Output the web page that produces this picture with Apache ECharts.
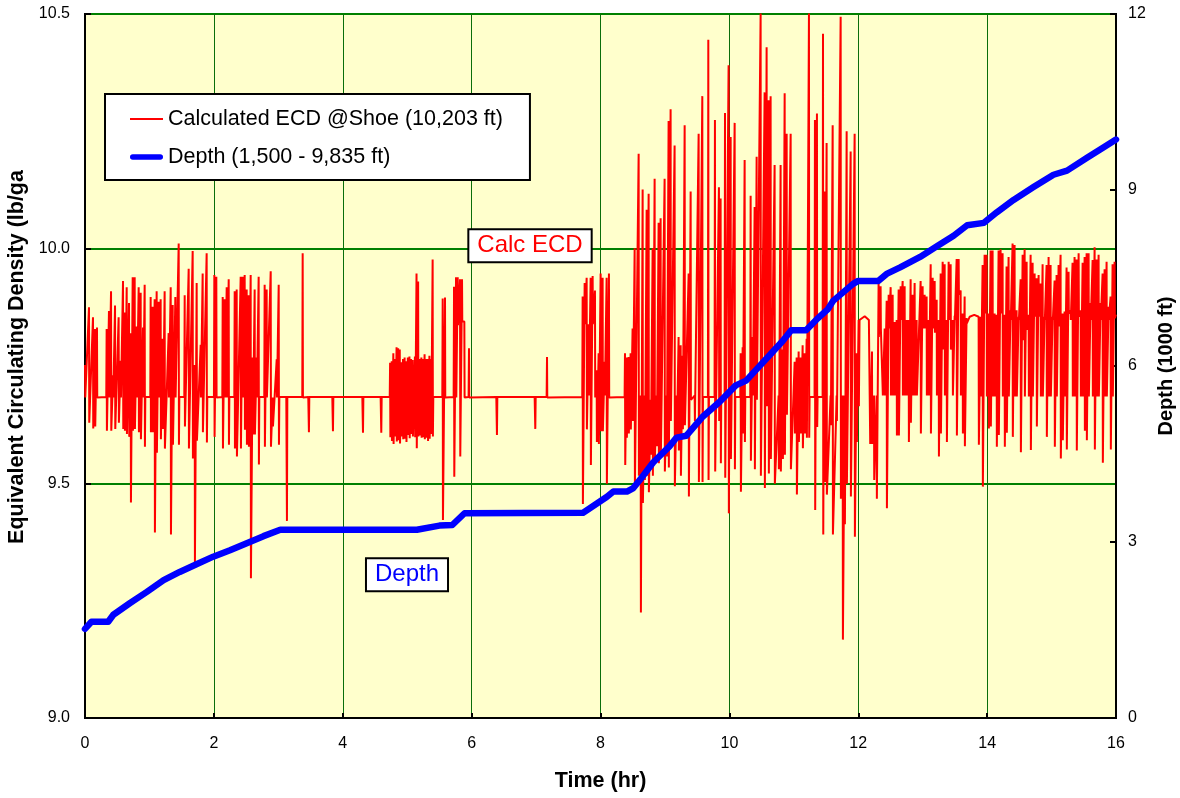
<!DOCTYPE html>
<html><head><meta charset="utf-8">
<script src="https://cdn.jsdelivr.net/npm/echarts@6/dist/echarts.min.js"></script>
<style>html,body{margin:0;padding:0;background:#fff}#c{width:1180px;height:798px}</style>
</head><body><div id="c"></div><script>
// ---------- DATA ----------
const xTicks = [0, 2, 4, 6, 8, 10, 12, 14, 16];
const ecdTicks = [9.0, 9.5, 10.0, 10.5];
const depthTicks = [0, 3, 6, 9, 12];
const ECD_BASE = 9.684;      // resting ECD level (before ~12 hr)
const seriesNames = ['Calculated ECD @Shoe (10,203 ft)', 'Depth (1,500 - 9,835 ft)'];

// ECD spikes: [time hr, high value, low value]
const ecdSpikes0to4 = [
  [0.000, 9.752, 9.683], [0.062, 9.875, 9.629], [0.124, 9.854, 9.617], [0.155, 9.829, 9.621],
  [0.186, 9.832, 9.683], [0.336, 9.829, 9.612], [0.372, 9.867, 9.683], [0.404, 9.909, 9.612],
  [0.435, 9.730, 9.683], [0.466, 9.879, 9.616], [0.522, 9.854, 9.629], [0.554, 9.761, 9.683],
  [0.590, 9.931, 9.616], [0.616, 9.864, 9.612], [0.647, 9.918, 9.605], [0.683, 9.884, 9.599],
  [0.709, 9.820, 9.459], [0.740, 9.939, 9.612], [0.771, 9.939, 9.616], [0.802, 9.834, 9.683],
  [0.833, 9.918, 9.609], [0.864, 9.906, 9.594], [0.900, 9.832, 9.683], [0.926, 9.923, 9.578],
  [1.019, 9.897, 9.609], [1.050, 9.876, 9.609], [1.081, 9.892, 9.395], [1.112, 9.909, 9.565],
  [1.143, 9.887, 9.683], [1.174, 9.892, 9.594], [1.205, 9.808, 9.616], [1.236, 9.909, 9.574],
  [1.298, 9.820, 9.683], [1.330, 9.918, 9.391], [1.361, 9.880, 9.582], [1.402, 9.897, 9.683],
  [1.454, 10.011, 9.582], [1.547, 9.901, 9.621], [1.609, 9.957, 9.574], [1.671, 9.995, 9.553],
  [1.702, 9.752, 9.332], [1.733, 9.927, 9.591], [1.795, 9.795, 9.683], [1.826, 9.947, 9.609],
  [1.888, 9.990, 9.587], [2.007, 9.944, 9.599], [2.038, 9.940, 9.683], [2.137, 9.897, 9.574],
  [2.168, 9.892, 9.683], [2.199, 9.918, 9.683], [2.230, 9.935, 9.582], [2.323, 9.909, 9.574],
  [2.354, 9.913, 9.557], [2.416, 9.940, 9.574], [2.447, 9.940, 9.683], [2.478, 9.944, 9.614],
  [2.509, 9.913, 9.582], [2.540, 9.901, 9.578], [2.571, 9.944, 9.298], [2.602, 9.768, 9.604],
  [2.633, 9.913, 9.604], [2.664, 9.768, 9.683], [2.695, 9.940, 9.540], [2.788, 9.923, 9.578],
  [2.819, 9.913, 9.683], [2.882, 9.952, 9.578], [2.913, 9.683, 9.621], [2.975, 9.764, 9.683],
  [3.006, 9.923, 9.582], [3.130, 9.683, 9.420], [3.378, 9.990, 9.683], [3.471, 9.683, 9.609],
  [3.844, 9.683, 9.611]
];
const ecdSpikes4to8 = [
  [4.310, 9.683, 9.608], [4.594, 9.683, 9.608],
  [4.735, 9.757, 9.598], [4.760, 9.760, 9.590], [4.785, 9.777, 9.584], [4.810, 9.765, 9.600],
  [4.835, 9.790, 9.589], [4.860, 9.788, 9.592], [4.885, 9.785, 9.585], [4.910, 9.758, 9.600],
  [4.935, 9.765, 9.594], [4.960, 9.768, 9.595], [4.985, 9.760, 9.588], [5.010, 9.768, 9.603],
  [5.035, 9.770, 9.596], [5.060, 9.765, 9.605], [5.085, 9.763, 9.600], [5.120, 9.770, 9.598],
  [5.145, 9.947, 9.575], [5.170, 9.930, 9.600], [5.195, 9.765, 9.602], [5.220, 9.768, 9.597],
  [5.245, 9.765, 9.598], [5.270, 9.775, 9.594], [5.295, 9.765, 9.597], [5.320, 9.765, 9.590],
  [5.345, 9.772, 9.595], [5.370, 9.765, 9.605], [5.395, 9.977, 9.600],
  [5.551, 9.894, 9.422], [5.587, 9.896, 9.683], [5.727, 9.919, 9.514], [5.758, 9.939, 9.683],
  [5.784, 9.939, 9.837], [5.820, 9.935, 9.557], [5.851, 9.935, 9.845], [5.887, 9.845, 9.683],
  [5.959, 9.788, 9.683], [6.389, 9.683, 9.603], [6.984, 9.683, 9.616], [7.170, 9.769, 9.683],
  [7.723, 9.898, 9.456], [7.754, 9.927, 9.839], [7.785, 9.938, 9.615], [7.816, 9.839, 9.687],
  [7.847, 9.938, 9.539], [7.878, 9.942, 9.839], [7.914, 9.911, 9.683], [7.940, 9.741, 9.588],
  [7.971, 9.777, 9.584]
];
const ecdSpikes8to12 = [
  [8.002, 9.947, 9.611], [8.033, 9.938, 9.611], [8.064, 9.759, 9.687], [8.095, 9.938, 9.499],
  [8.131, 9.947, 9.683],
  [8.380, 9.777, 9.539], [8.405, 9.768, 9.597], [8.436, 9.769, 9.606], [8.467, 9.777, 9.615],
  [8.498, 9.830, 9.633], [8.530, 10.001, 9.490], [8.592, 10.202, 9.516], [8.623, 9.687, 9.225],
  [8.654, 10.126, 9.458], [8.685, 9.687, 9.507], [8.716, 10.083, 9.516], [8.747, 10.117, 9.481],
  [8.778, 9.678, 9.561], [8.809, 10.001, 9.516], [8.840, 10.149, 9.552], [8.871, 9.687, 9.579],
  [8.902, 10.055, 9.543], [8.933, 10.065, 9.561], [8.995, 10.149, 9.525], [9.026, 9.687, 9.557],
  [9.057, 10.272, 9.534], [9.088, 10.297, 9.633], [9.150, 10.220, 9.494], [9.181, 9.687, 9.597],
  [9.212, 9.812, 9.570], [9.244, 9.794, 9.516], [9.275, 9.772, 9.615], [9.306, 10.263, 9.624],
  [9.368, 9.947, 9.472], [9.399, 10.122, 9.678], [9.461, 9.687, 9.633], [9.523, 10.245, 9.503],
  [9.580, 10.325, 9.503], [9.673, 10.445, 9.507], [9.776, 10.274, 9.525], [9.838, 10.131, 9.633],
  [9.864, 10.107, 9.543], [9.932, 10.289, 9.512], [9.988, 10.391, 9.436], [10.020, 10.238, 9.552],
  [10.082, 10.268, 9.530], [10.175, 9.777, 9.482], [10.206, 9.790, 9.606], [10.237, 10.189, 9.588],
  [10.330, 10.113, 9.548], [10.361, 9.812, 9.687], [10.392, 10.089, 9.530], [10.423, 10.196, 9.678],
  [10.485, 10.501, 9.516], [10.547, 10.333, 9.490], [10.578, 10.429, 9.664], [10.609, 10.316, 9.521],
  [10.640, 10.325, 9.552], [10.702, 10.178, 9.499], [10.764, 9.687, 9.530], [10.795, 10.178, 9.525],
  [10.827, 9.785, 9.552], [10.858, 10.331, 9.561], [10.889, 10.245, 9.646], [10.951, 10.245, 9.530],
  [11.013, 9.759, 9.606], [11.044, 9.768, 9.476], [11.075, 9.781, 9.588], [11.106, 9.768, 9.606],
  [11.137, 9.794, 9.575], [11.168, 9.777, 9.606], [11.199, 9.808, 9.597], [11.235, 10.501, 9.597],
  [11.328, 10.274, 9.443], [11.359, 10.288, 9.620], [11.453, 10.458, 9.391], [11.478, 10.122, 9.503],
  [11.509, 10.225, 9.476], [11.571, 9.687, 9.624], [11.603, 10.263, 9.391], [11.665, 9.687, 9.633],
  [11.727, 10.494, 9.467], [11.758, 9.687, 9.167], [11.789, 9.687, 9.413], [11.820, 10.250, 9.499],
  [11.882, 10.207, 9.472], [11.944, 10.245, 9.386], [11.975, 9.777, 9.588]
];
const ecdSpikes12to16 = [
  [12.006, 9.848, 9.664], [12.020, 9.848, 9.848], [12.100, 9.856, 9.856], [12.165, 9.848, 9.848],
  [12.182, 9.848, 9.584], [12.213, 9.781, 9.584], [12.244, 9.687, 9.507], [12.285, 9.687, 9.467],
  [12.316, 9.931, 9.812], [12.347, 9.920, 9.830], [12.378, 9.826, 9.687], [12.410, 9.830, 9.687],
  [12.441, 9.889, 9.447], [12.472, 9.902, 9.830], [12.503, 9.918, 9.687], [12.534, 9.902, 9.687],
  [12.565, 9.844, 9.687], [12.596, 9.848, 9.602], [12.627, 9.913, 9.602], [12.658, 9.920, 9.848],
  [12.689, 9.931, 9.687], [12.720, 9.920, 9.687], [12.751, 9.848, 9.687], [12.782, 9.848, 9.588],
  [12.813, 9.935, 9.629], [12.844, 9.902, 9.687], [12.875, 9.927, 9.687], [12.906, 9.848, 9.687],
  [12.968, 9.931, 9.606], [12.999, 9.920, 9.830], [13.030, 9.902, 9.830], [13.061, 9.898, 9.687],
  [13.092, 9.848, 9.687], [13.124, 9.967, 9.606], [13.155, 9.938, 9.830], [13.186, 9.931, 9.821],
  [13.217, 9.891, 9.687], [13.248, 9.848, 9.557], [13.279, 9.947, 9.606], [13.310, 9.972, 9.785],
  [13.341, 9.967, 9.687], [13.372, 9.848, 9.588], [13.403, 9.972, 9.848], [13.434, 9.967, 9.785],
  [13.465, 9.848, 9.687], [13.496, 9.857, 9.848], [13.527, 9.978, 9.602], [13.558, 9.978, 9.902],
  [13.589, 9.911, 9.687], [13.620, 9.862, 9.606], [13.651, 9.898, 9.579], [13.681, 9.852, 9.841],
  [13.730, 9.855, 9.855], [13.800, 9.859, 9.859], [13.868, 9.855, 9.582], [13.899, 9.855, 9.685],
  [13.930, 9.965, 9.493], [13.961, 9.987, 9.862], [13.992, 9.987, 9.685], [14.023, 9.862, 9.617],
  [14.054, 9.996, 9.621], [14.085, 9.996, 9.685], [14.116, 9.862, 9.685], [14.147, 9.859, 9.578],
  [14.178, 9.996, 9.603], [14.209, 9.999, 9.862], [14.240, 9.990, 9.685], [14.271, 9.859, 9.578],
  [14.302, 9.962, 9.608], [14.333, 9.982, 9.685], [14.364, 9.869, 9.848], [14.395, 10.011, 9.599],
  [14.426, 10.008, 9.685], [14.457, 9.869, 9.685], [14.489, 9.855, 9.848], [14.520, 9.935, 9.566],
  [14.551, 9.987, 9.805], [14.582, 9.999, 9.685], [14.613, 9.972, 9.827], [14.644, 9.859, 9.685],
  [14.675, 9.987, 9.571], [14.706, 9.970, 9.685], [14.737, 9.947, 9.855], [14.768, 9.937, 9.621],
  [14.799, 9.944, 9.855], [14.830, 9.926, 9.685], [14.861, 9.967, 9.685], [14.892, 9.855, 9.848],
  [14.923, 9.965, 9.599], [14.954, 9.982, 9.685], [14.985, 9.965, 9.685], [15.016, 9.855, 9.848],
  [15.047, 9.932, 9.578], [15.078, 9.944, 9.685], [15.109, 9.965, 9.834], [15.140, 9.987, 9.553],
  [15.171, 9.862, 9.592], [15.202, 9.866, 9.685], [15.233, 9.960, 9.572], [15.264, 9.951, 9.862],
  [15.295, 9.869, 9.848], [15.326, 9.970, 9.685], [15.357, 9.982, 9.685], [15.388, 9.977, 9.570],
  [15.420, 9.990, 9.855], [15.451, 9.869, 9.685], [15.482, 9.970, 9.685], [15.513, 9.982, 9.612],
  [15.544, 9.990, 9.592], [15.575, 9.990, 9.685], [15.606, 9.884, 9.848], [15.637, 9.976, 9.685],
  [15.668, 10.003, 9.572], [15.699, 9.977, 9.685], [15.730, 9.987, 9.685], [15.761, 9.884, 9.848],
  [15.792, 9.947, 9.544], [15.823, 9.956, 9.685], [15.854, 9.972, 9.685], [15.885, 9.876, 9.848],
  [15.916, 9.898, 9.572], [15.947, 9.967, 9.685], [15.978, 9.972, 9.852], [16.000, 9.860, 9.860]
];

// Depth (1000 ft) vs time (hr)
const depthTime = [0, 0.10, 0.36, 0.44, 0.70, 0.96, 1.22, 1.47, 1.73, 1.99, 2.25, 2.51, 2.77, 3.03,
  5.15, 5.50, 5.70, 5.89, 7.73, 7.80, 7.95, 8.10, 8.20, 8.41, 8.51, 8.64, 8.82, 9.07, 9.18, 9.33,
  9.59, 9.85, 10.10, 10.26, 10.41, 10.62, 10.83, 10.96, 11.19, 11.35, 11.53, 11.61, 11.92, 12.00,
  12.31, 12.44, 12.65, 12.96, 13.22, 13.48, 13.69, 13.95, 14.15, 14.41, 14.72, 15.03, 15.24, 15.55,
  15.81, 16.00];
const depthValue = [1.52, 1.64, 1.64, 1.76, 1.96, 2.15, 2.35, 2.49, 2.62, 2.75, 2.86, 2.98, 3.10, 3.21,
  3.21, 3.28, 3.29, 3.49, 3.50, 3.55, 3.66, 3.77, 3.86, 3.86, 3.92, 4.10, 4.36, 4.63, 4.78, 4.81,
  5.14, 5.39, 5.67, 5.75, 5.93, 6.18, 6.43, 6.61, 6.61, 6.79, 6.97, 7.11, 7.40, 7.45,
  7.45, 7.57, 7.68, 7.86, 8.04, 8.22, 8.40, 8.44, 8.62, 8.83, 9.05, 9.26, 9.33, 9.55,
  9.73, 9.86];

// ---------- BUILD ----------
const spikes = [].concat(ecdSpikes0to4, ecdSpikes4to8, ecdSpikes8to12, ecdSpikes12to16)
  .sort((a, b) => a[0] - b[0]);
const GAP = 0.065;
const ecdData = [];
spikes.forEach((s, i) => {
  const prev = spikes[i - 1], next = spikes[i + 1];
  if (prev && s[0] - prev[0] > GAP && s[0] < 12) ecdData.push([s[0] - 0.006, ECD_BASE]);
  ecdData.push([s[0], s[1]]);
  ecdData.push([s[0] + 0.004, s[2]]);
  if (next && next[0] - s[0] > GAP && s[0] < 12) ecdData.push([s[0] + 0.01, ECD_BASE]);
});
const depthData = depthTime.map((t, i) => [t, depthValue[i]]);

const FONT = "'Liberation Sans', Arial, Helvetica, sans-serif";
const chart = echarts.init(document.getElementById('c'), null, { renderer: 'canvas' });
chart.setOption({
  backgroundColor: '#ffffff',
  animation: false,
  textStyle: { fontFamily: FONT },
  grid: { left: 85, right: 64, top: 14, bottom: 80, show: true, backgroundColor: '#FFFFCC',
          borderColor: '#000', borderWidth: 2, containLabel: false, outerBoundsMode: 'none' },
  legend: {
    data: [
      { name: seriesNames[0], icon: 'path://M0,0 L32,0 L32,2 L0,2 Z' },
      { name: seriesNames[1], icon: 'path://M3,0 L33,0 A3,3 0 0 1 33,6 L3,6 A3,3 0 0 1 3,0 Z' }
    ],
    orient: 'vertical', left: 105, top: 94,
    backgroundColor: '#fff', borderColor: '#000', borderWidth: 2,
    padding: [14, 27, 12, 25], itemGap: 16, itemWidth: 33, itemHeight: 14,
    textStyle: { fontSize: 21.5, color: '#000', fontFamily: FONT }
  },
  xAxis: {
    type: 'value', min: xTicks[0], max: xTicks[xTicks.length - 1], interval: 2,
    name: 'Time (hr)', nameLocation: 'middle', nameGap: 52,
    nameTextStyle: { fontSize: 21.5, fontWeight: 'bold', color: '#000', fontFamily: FONT },
    axisLine: { lineStyle: { color: '#000', width: 2 } },
    axisTick: { inside: true, length: 5, lineStyle: { color: '#000', width: 2 } },
    axisLabel: { fontSize: 16, color: '#000', margin: 18, fontFamily: FONT },
    splitLine: { show: true, lineStyle: { color: '#0A6E0A', width: 1 } }
  },
  yAxis: [{
    type: 'value', min: ecdTicks[0], max: ecdTicks[ecdTicks.length - 1], interval: 0.5,
    name: 'Equivalent Circulating Density (lb/ga', nameLocation: 'middle', nameGap: 52,
    nameTextStyle: { fontSize: 21.5, fontWeight: 'bold', color: '#000', fontFamily: FONT,
                     padding: [0, 0, 0, 18] },
    axisLine: { show: true, lineStyle: { color: '#000', width: 2 } },
    axisTick: { show: true, inside: true, length: 6, lineStyle: { color: '#000', width: 2 } },
    axisLabel: { fontSize: 16, color: '#000', margin: 15, fontFamily: FONT,
                 formatter: v => v.toFixed(1) },
    splitLine: { show: true, lineStyle: { color: '#008000', width: 2 } }
  }, {
    type: 'value', min: depthTicks[0], max: depthTicks[depthTicks.length - 1], interval: 3,
    position: 'right',
    name: 'Depth (1000 ft)', nameLocation: 'middle', nameGap: 36,
    nameTextStyle: { fontSize: 20, fontWeight: 'bold', color: '#000', fontFamily: FONT },
    axisLine: { show: true, lineStyle: { color: '#000', width: 2 } },
    axisTick: { show: true, inside: true, length: 6, lineStyle: { color: '#000', width: 2 } },
    axisLabel: { fontSize: 16, color: '#000', margin: 12, fontFamily: FONT },
    splitLine: { show: false }
  }],
  series: [{
    name: seriesNames[0], type: 'line', yAxisIndex: 0, data: ecdData,
    symbol: 'none', showSymbol: false,
    lineStyle: { color: '#FF0000', width: 2 }, itemStyle: { color: '#FF0000' }, z: 2
  }, {
    name: seriesNames[1], type: 'line', yAxisIndex: 1, data: depthData,
    symbol: 'none', showSymbol: false,
    lineStyle: { color: '#0000FF', width: 6.5, cap: 'round', join: 'round' },
    itemStyle: { color: '#0000FF' }, z: 3
  }]
});

// Annotation boxes anchored at data coordinates
const pCalc = chart.convertToPixel({ xAxisIndex: 0, yAxisIndex: 0 }, [6.906, 10.006]);
const pDepth = chart.convertToPixel({ xAxisIndex: 0, yAxisIndex: 0 }, [4.997, 9.305]);
const boxStyle = { backgroundColor: '#fff', borderColor: '#000', borderWidth: 2,
                   padding: [4, 8, 3, 8], font: "24px " + FONT, align: 'center', verticalAlign: 'middle' };
chart.setOption({
  graphic: [
    { type: 'text', x: pCalc[0], y: pCalc[1], z: 100,
      style: Object.assign({ text: 'Calc ECD', fill: '#FF0000' }, boxStyle) },
    { type: 'text', x: pDepth[0], y: pDepth[1], z: 100,
      style: Object.assign({ text: 'Depth', fill: '#0000FF' }, boxStyle) }
  ]
});
</script></body></html>
